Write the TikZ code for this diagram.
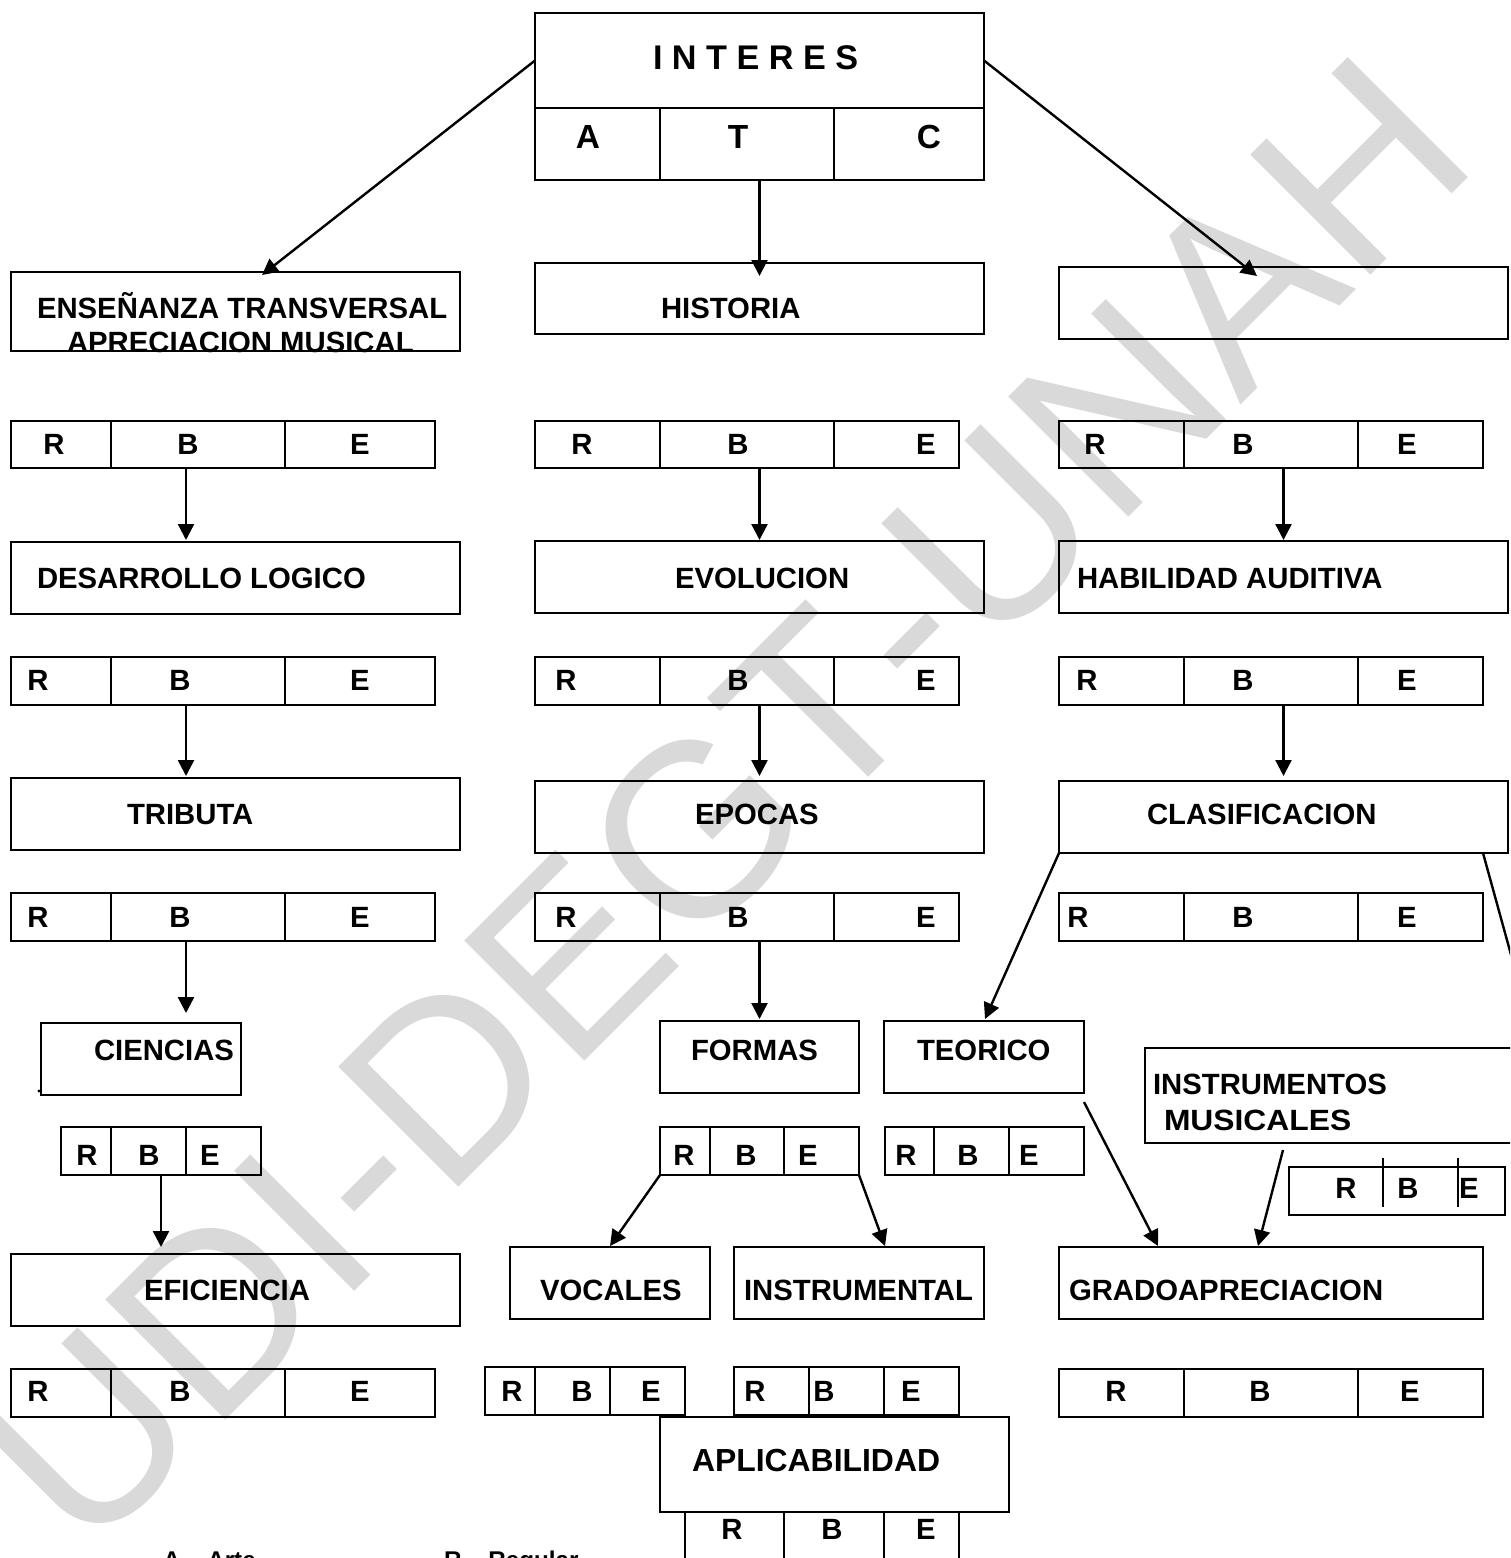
\documentclass[tikz,border=0pt]{standalone}
\usepackage{fontspec}
\setmainfont{Liberation Sans}
\newfontfamily\wmfont[Kerning=Off]{Liberation Sans}
\usetikzlibrary{arrows.meta}
\definecolor{wm}{HTML}{D9D9D9}
\tikzset{
  box/.style={draw=black,line width=2.1pt,inner sep=0pt,outer sep=0pt},
  lbl/.style={inner sep=0pt,outer sep=0pt,anchor=base west,font=\fontsize{29.3}{32}\selectfont\bfseries},
  clbl/.style={lbl,anchor=base},
  big/.style={font=\fontsize{33.4}{36}\selectfont\bfseries},
  legend/.style={inner sep=0pt,outer sep=0pt,anchor=base west,font=\fontsize{24.2}{28}\selectfont\bfseries},
  div/.style={line width=2.1pt},
  arr/.style={line width=2.4pt,-{Triangle[length=16pt,width=16pt]}},
  plain/.style={line width=2.4pt}
}
\newcommand{\bx}[5]{\pgfmathsetmacro{\wa}{#4-#2}\pgfmathsetmacro{\ha}{#5-#3}%
  \node[box,minimum width=\wa pt,minimum height=\ha pt] (#1) at ({(#2+#4)/2},{(#3+#5)/2}) {};}
\newcommand{\rbebox}[7]{\bx{#1}{#2}{#3}{#4}{#5}%
  \draw[div] (#6,#3) -- (#6,#5);\draw[div] (#7,#3) -- (#7,#5);}
\newcommand{\rbetxt}[5]{\node[clbl] (#1R) at (#2,#5) {R};\node[clbl] (#1B) at (#3,#5) {B};\node[clbl] (#1E) at (#4,#5) {E};}
\begin{document}
\begin{tikzpicture}[x=1pt,y=-1pt]
\useasboundingbox (0,0) rectangle (1510,1558);
\clip (0,0) rectangle (1510,1558);
% watermark
\node[inner sep=0pt,outer sep=0pt,text=wm,rotate=45,anchor=base east,font=\fontsize{247}{250}\wmfont] (mark) at (1483,163) {UDI-DEGT-UNAH};
% top
\bx{interes}{535}{13}{984}{108}
\rbebox{atc}{535}{108}{984}{180}{660}{834}
\node[lbl,font=\fontsize{34.2}{36}\selectfont\bfseries] (tint) at (653,69) {I N T E R E S};
\node[clbl,big] (tA) at (588,148) {A};
\node[clbl,big] (tT) at (738,148) {T};
\node[clbl,big] (tC) at (929,148) {C};
% row 1
\bx{ense}{11}{272}{460}{351}
\node[lbl] (tense) at (37,318) {ENSEÑANZA TRANSVERSAL};
\node[lbl] (tapre) at (67,352) {APRECIACION MUSICAL};
\bx{hist}{535}{263}{984}{334}
\node[lbl] (thist) at (661,318) {HISTORIA};
\bx{blank}{1059}{267}{1508}{339}
\rbebox{ra}{11}{421}{435}{468}{111}{285}\rbetxt{ra}{54}{188}{360}{454}
\rbebox{sa}{535}{421}{959}{468}{660}{834}\rbetxt{sa}{582}{738}{926}{454}
\rbebox{ta}{1059}{421}{1483}{468}{1184}{1358}\rbetxt{ta}{1095}{1243}{1407}{454}
% row 2
\bx{desa}{11}{542}{460}{614}\node[lbl] (tdesa) at (37,588) {DESARROLLO LOGICO};
\bx{evol}{535}{541}{984}{613}\node[lbl] (tevol) at (675,588) {EVOLUCION};
\bx{habi}{1059}{541}{1508}{613}\node[lbl] (thabi) at (1077,588) {HABILIDAD AUDITIVA};
\rbebox{rb}{11}{657}{435}{705}{111}{285}\rbetxt{rb}{38}{180}{360}{690}
\rbebox{sb}{535}{657}{959}{705}{660}{834}\rbetxt{sb}{566}{738}{926}{690}
\rbebox{tb}{1059}{657}{1483}{705}{1184}{1358}\rbetxt{tb}{1087}{1243}{1407}{690}
% row 3
\bx{trib}{11}{778}{460}{850}\node[lbl] (ttrib) at (127,824) {TRIBUTA};
\bx{epoc}{535}{781}{984}{853}\node[lbl] (tepoc) at (695,824) {EPOCAS};
\bx{clas}{1059}{781}{1508}{853}\node[lbl] (tclas) at (1147,824) {CLASIFICACION};
\rbebox{rc}{11}{893}{435}{941}{111}{285}\rbetxt{rc}{38}{180}{360}{927}
\rbebox{sc}{535}{893}{959}{941}{660}{834}\rbetxt{sc}{566}{738}{926}{927}
\rbebox{tc}{1059}{893}{1483}{941}{1184}{1358}\rbetxt{tc}{1078}{1243}{1407}{927}
% row 4
\bx{cien}{41}{1023}{241}{1095}\node[lbl] (tcien) at (94,1060) {CIENCIAS};
\fill (39,1091) circle (1.6pt);
\bx{form}{660}{1021}{859}{1093}\node[lbl] (tform) at (691,1060) {FORMAS};
\bx{teor}{884}{1021}{1084}{1093}\node[lbl] (tteor) at (917,1060) {TEORICO};
\bx{inst}{1145}{1048}{1530}{1143}
\node[lbl] (tinst) at (1153,1094) {INSTRUMENTOS};
\node[lbl,xscale=1.085] (tmusi) at (1164,1130) {MUSICALES};
\rbebox{rd}{61}{1127}{261}{1175}{111}{186}\rbetxt{rd}{87}{149}{210}{1165}
\rbebox{sd}{660}{1127}{859}{1175}{710}{784}\rbetxt{sd}{684}{746}{808}{1165}
\rbebox{td}{885}{1127}{1084}{1175}{934}{1009}\rbetxt{td}{906}{968}{1029}{1165}
\bx{ud}{1289}{1167}{1505}{1215}
\draw[div] (1383,1158) -- (1383,1207);\draw[div] (1458,1158) -- (1458,1207);
\rbetxt{ud}{1346}{1408}{1469}{1198}
% row 5
\bx{efic}{11}{1254}{460}{1326}\node[lbl] (tefic) at (144,1300) {EFICIENCIA};
\bx{voca}{510}{1247}{710}{1319}\node[lbl] (tvoca) at (540,1300) {VOCALES};
\bx{inml}{734}{1247}{984}{1319}\node[lbl] (tinml) at (744,1300) {INSTRUMENTAL};
\bx{grad}{1059}{1247}{1483}{1319}\node[lbl] (tgrad) at (1069,1300) {GRADOAPRECIACION};
\rbebox{re}{11}{1369}{435}{1417}{111}{285}\rbetxt{re}{38}{180}{360}{1401}
\rbebox{se}{485}{1367}{685}{1415}{535}{610}\rbetxt{se}{512}{582}{651}{1401}
\rbebox{te}{734}{1367}{959}{1415}{809}{884}\rbetxt{te}{755}{824}{911}{1401}
\rbebox{ue}{1059}{1369}{1483}{1417}{1184}{1358}\rbetxt{ue}{1116}{1260}{1410}{1401}
% aplicabilidad
\bx{apli}{660}{1417}{1009}{1512}\node[lbl,font=\fontsize{31.9}{34}\selectfont\bfseries] (tapli) at (692,1471) {APLICABILIDAD};
\rbebox{rf}{685}{1512}{959}{1590}{784}{884}\rbetxt{rf}{732}{832}{926}{1539}
% legend
\node[legend] (lega) at (163,1568) {A – Arte};
\node[legend] (legr) at (444,1568) {R – Regular};
% connectors
\draw[arr] (interes.west) -- ([xshift=26.5pt,yshift=-3pt]ense.north);
\draw[arr] (atc.south) -- ([yshift=-13pt]hist.north);
\draw[arr] (interes.east) -- ([xshift=-26.5pt,yshift=-9pt]blank.north);
\draw[arr] ([xshift=-37pt]ra.south) -- ([xshift=-49.5pt,yshift=2pt]desa.north);
\draw[arr] ([xshift=12.5pt]sa.south) -- ([yshift=1pt]evol.north);
\draw[arr] ([xshift=12.5pt]ta.south) -- ([yshift=1pt]habi.north);
\draw[arr] ([xshift=-37pt]rb.south) -- ([xshift=-49.5pt,yshift=2pt]trib.north);
\draw[arr] ([xshift=12.5pt]sb.south) -- ([yshift=5pt]epoc.north);
\draw[arr] ([xshift=12.5pt]tb.south) -- ([yshift=5pt]clas.north);
\draw[arr] ([xshift=-37pt]rc.south) -- ([xshift=45pt,yshift=10pt]cien.north);
\draw[arr] ([xshift=12.5pt]sc.south) -- ([yshift=2pt]form.north);
\draw[arr] (clas.south west) -- ([xshift=1pt,yshift=2pt]teor.north);
\coordinate (offright) at (1540,1060);
\draw[plain] ([xshift=-25pt]clas.south east) -- (offright);
\draw[arr] (rd.south) -- ([xshift=-74.5pt,yshift=7pt]efic.north);
\draw[arr] (sd.south west) -- ([yshift=1pt]voca.north);
\draw[arr] (sd.south east) -- ([xshift=26pt,yshift=1pt]inml.north);
\draw[arr] ([yshift=-9pt]teor.south east) -- ([xshift=-113pt,yshift=1pt]grad.north);
\draw[arr] ([xshift=-54.5pt,yshift=-7pt]inst.south) -- ([xshift=-13pt,yshift=1pt]grad.north);
\end{tikzpicture}
\end{document}
